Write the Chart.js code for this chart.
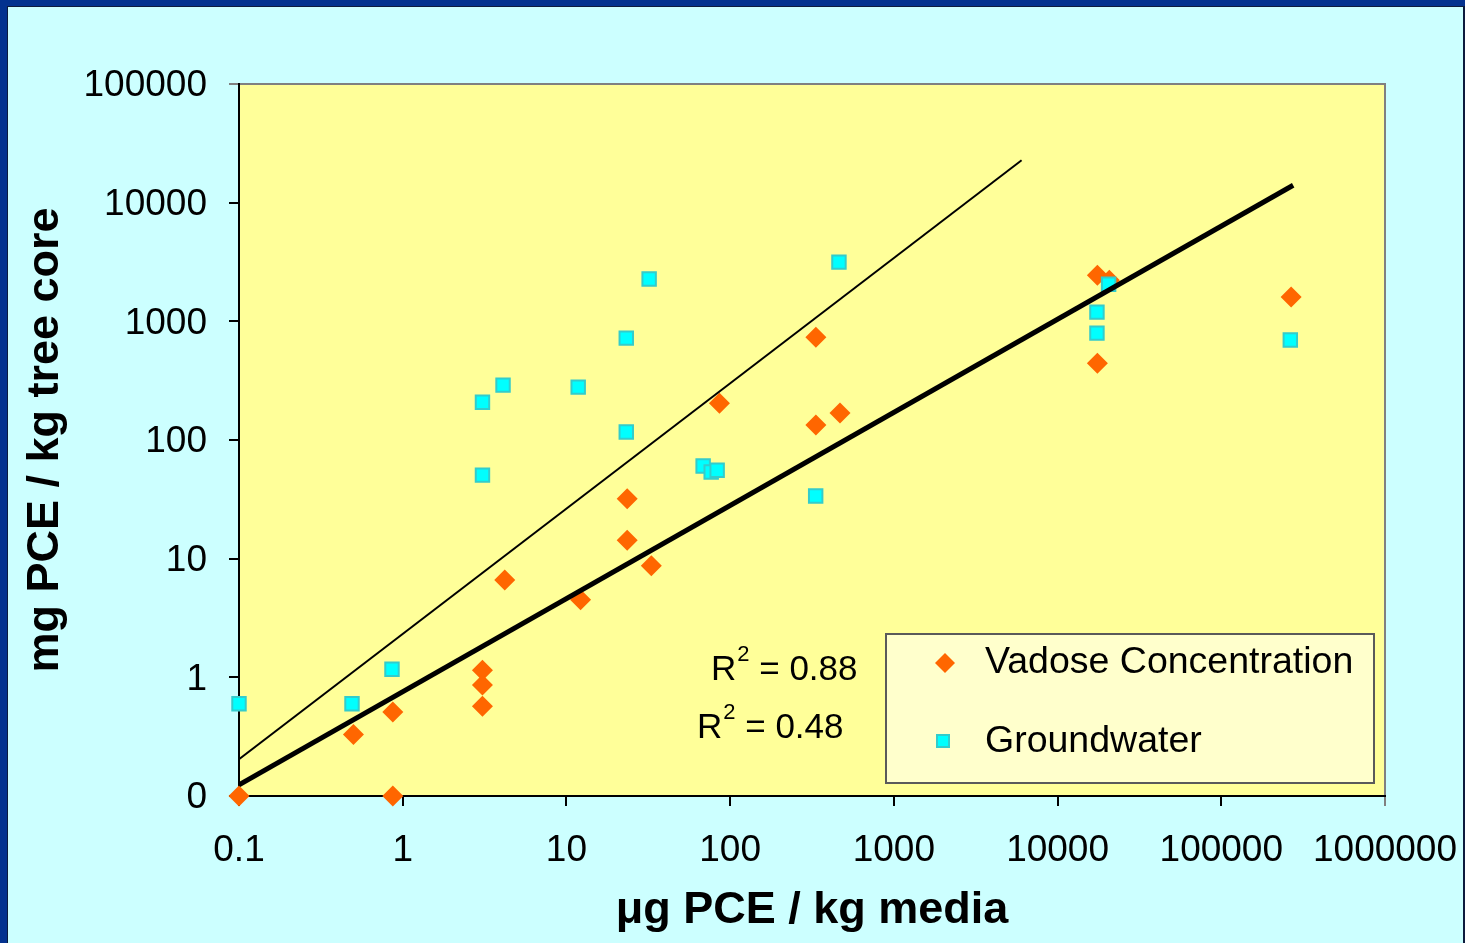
<!DOCTYPE html>
<html>
<head>
<meta charset="utf-8">
<script src="https://cdn.jsdelivr.net/npm/chart.js@4.4.1/dist/chart.umd.min.js"></script>
<style>
  html, body { margin: 0; padding: 0; }
  body { width: 1465px; height: 943px; background: #03328f; overflow: hidden; position: relative; }
  #frame { position: absolute; left: 7px; top: 6px; width: 1455px; height: 940px; background: #ccffff;
           border-left: 1px solid #0d1b3d; border-top: 1px solid #0d1b3d; border-right: 2px solid #0d1b3d; }
  #wrap { position: relative; width: 1455px; height: 936px; }
</style>
</head>
<body>
<div id="frame"><div id="wrap"><canvas id="pceChart"></canvas></div></div>
<script>
// values
const vadoseX = [0.1, 0.5, 0.87, 0.87, 3.07, 3.07, 3.07, 4.2, 12.2, 23.5, 23.5, 33, 86, 334, 334, 469, 17500, 20700, 17500, 267000];
const vadoseY = [0.1, 0.33, 0.51, 0.1, 1.15, 0.86, 0.57, 6.6, 4.5, 32, 14.3, 8.7, 204, 736, 134, 169, 2450, 2220, 444, 1600];

const groundX = [0.1, 0.49, 0.86, 3.07, 3.07, 4.1, 11.8, 23.2, 23.2, 32, 68.4, 76.6, 83.3, 333, 462, 17400, 17400, 20500, 264000];
const groundY = [0.6, 0.6, 1.17, 50.6, 208, 290, 279, 722, 117, 2270, 60.3, 53.7, 55.7, 33.7, 3155, 1195, 795, 2057, 695];

// trend lines (straight on log-log axes)
const fitX = [0.1, 274800];
const fitY = [0.124, 14030];
const refX = [0.1, 6030];
const refY = [0.204, 22800];

const xTicks = [0.1, 1, 10, 100, 1000, 10000, 100000, 1000000];
const xTickLabels = ['0.1', '1', '10', '100', '1000', '10000', '100000', '1000000'];
const yTicks = [0.1, 1, 10, 100, 1000, 10000, 100000];
const yTickLabels = ['0', '1', '10', '100', '1000', '10000', '100000'];

const seriesNames = ['Vadose Concentration', 'Groundwater'];
const r2Labels = ['0.88', '0.48'];

const FONT = "'Liberation Sans', Arial, sans-serif";
const pts = (xs, ys) => xs.map((x, i) => ({ x: x, y: ys[i] }));

const panelPlugin = {
    id: 'panel',
    beforeDraw(chart) {
        const { ctx, chartArea: a } = chart;
        ctx.save();
        ctx.fillStyle = '#ffff99';
        ctx.fillRect(a.left, a.top, a.right - a.left, a.bottom - a.top);
        ctx.strokeStyle = '#808080';
        ctx.lineWidth = 2;
        ctx.beginPath();
        ctx.moveTo(a.left, a.top);
        ctx.lineTo(a.right, a.top);
        ctx.lineTo(a.right, a.bottom);
        ctx.stroke();
        ctx.restore();
    },
    afterDraw(chart) {
        const { ctx, chartArea: a } = chart;
        const bw = 488, bh = 149;
        const bx = a.right - 11 - bw, by = a.bottom - 13 - bh;
        ctx.save();
        // legend box
        ctx.fillStyle = '#ffffcc';
        ctx.fillRect(bx, by, bw, bh);
        ctx.strokeStyle = '#5a5a5a';
        ctx.lineWidth = 2;
        ctx.strokeRect(bx, by, bw, bh);

        // diamond marker
        ctx.fillStyle = '#ff6600';
        ctx.beginPath();
        ctx.moveTo(bx + 59, by + 29 - 10);
        ctx.lineTo(bx + 59 + 10, by + 29);
        ctx.lineTo(bx + 59, by + 29 + 10);
        ctx.lineTo(bx + 59 - 10, by + 29);
        ctx.closePath();
        ctx.fill();
        // square marker
        ctx.fillStyle = '#00ffff';
        ctx.strokeStyle = '#33cccc';
        ctx.lineWidth = 2;
        ctx.fillRect(bx + 51, by + 101, 12, 12);
        ctx.strokeRect(bx + 51, by + 101, 12, 12);

        ctx.fillStyle = '#000';
        ctx.font = '37.5px ' + FONT;
        ctx.textAlign = 'left';
        ctx.textBaseline = 'middle';
        ctx.fillText(seriesNames[0], bx + 99, by + 29);
        ctx.fillText(seriesNames[1], bx + 99, by + 108);

        // R squared labels
        const r2Pos = [[bx - 175, by + 46], [bx - 189, by + 104]];
        ctx.textBaseline = 'alphabetic';
        r2Pos.forEach(([x, y], i) => {
            ctx.font = '35px ' + FONT;
            ctx.fillText('R', x, y);
            let w = ctx.measureText('R').width;
            ctx.font = '22px ' + FONT;
            ctx.fillText('2', x + w + 1, y - 19);
            w += ctx.measureText('2').width + 1;
            ctx.font = '35px ' + FONT;
            ctx.fillText(' = ' + r2Labels[i], x + w, y);
        });
        ctx.restore();
    }
};

const ctx = document.getElementById('pceChart').getContext('2d');
const pceChart = new Chart(ctx, {
    type: 'scatter',
    data: {
        datasets: [
            {
                label: seriesNames[0],
                data: pts(vadoseX, vadoseY),
                pointStyle: 'rectRot',
                pointRadius: 10.5,
                backgroundColor: '#ff6600',
                borderColor: '#ff6600',
                borderWidth: 0,
                clip: false,
                order: 4
            },
            {
                label: seriesNames[1],
                data: pts(groundX, groundY),
                pointStyle: 'rect',
                pointRadius: 9.5,
                backgroundColor: '#00ffff',
                borderColor: '#33cccc',
                borderWidth: 2,
                clip: false,
                order: 3
            },
            {
                label: 'fit',
                data: pts(fitX, fitY),
                showLine: true,
                borderColor: '#000',
                borderWidth: 5,
                pointRadius: 0,
                order: 2
            },
            {
                label: 'ref',
                data: pts(refX, refY),
                showLine: true,
                borderColor: '#000',
                borderWidth: 2,
                pointRadius: 0,
                order: 1
            }
        ]
    },
    options: {
        responsive: true,
        maintainAspectRatio: false,
        animation: false,
        events: [],
        layout: { padding: { top: 77, right: 78, left: 0, bottom: 0 } },
        scales: {
            x: {
                type: 'logarithmic',
                min: 0.1,
                max: 1000000,
                afterBuildTicks: (scale) => { scale.ticks = xTicks.map(v => ({ value: v })); },
                afterFit: (scale) => {
                    scale.height = 147;
                    scale.paddingLeft = 0;
                    scale.paddingRight = 0;
                },
                ticks: {
                    callback: (value, index) => xTickLabels[index],
                    font: { size: 37, family: FONT },
                    color: '#000',
                    padding: 23,
                    maxRotation: 0,
                    autoSkip: false
                },
                grid: {
                    drawOnChartArea: false,
                    tickLength: 10,
                    lineWidth: 2,
                    color: (c) => (c.tick && c.tick.value === 1000000 ? '#808080' : '#000')
                },
                border: { display: true, color: '#000', width: 2 },
                title: {
                    display: true,
                    text: 'μg PCE / kg media',
                    color: '#000',
                    font: { size: 45, weight: 'bold', family: FONT },
                    padding: { top: 0, bottom: 5 }
                }
            },
            y: {
                type: 'logarithmic',
                min: 0.1,
                max: 100000,
                afterBuildTicks: (scale) => { scale.ticks = yTicks.map(v => ({ value: v })); },
                afterFit: (scale) => {
                    scale.width = 231;
                    scale.paddingTop = 0;
                    scale.paddingBottom = 0;
                },
                ticks: {
                    callback: (value, index) => yTickLabels[index],
                    font: { size: 37, family: FONT },
                    color: '#000',
                    padding: 22,
                    labelOffset: 2,
                    autoSkip: false
                },
                grid: {
                    drawOnChartArea: false,
                    tickLength: 10,
                    lineWidth: 2,
                    color: (c) => (c.tick && c.tick.value === 100000 ? '#808080' : '#000')
                },
                border: { display: true, color: '#000', width: 2 },
                title: {
                    display: true,
                    text: 'mg PCE / kg tree core',
                    color: '#000',
                    font: { size: 45, weight: 'bold', family: FONT },
                    padding: { top: 11, bottom: 0 }
                }
            }
        },
        plugins: {
            legend: { display: false },
            tooltip: { enabled: false }
        }
    },
    plugins: [panelPlugin]
});
</script>
</body>
</html>
